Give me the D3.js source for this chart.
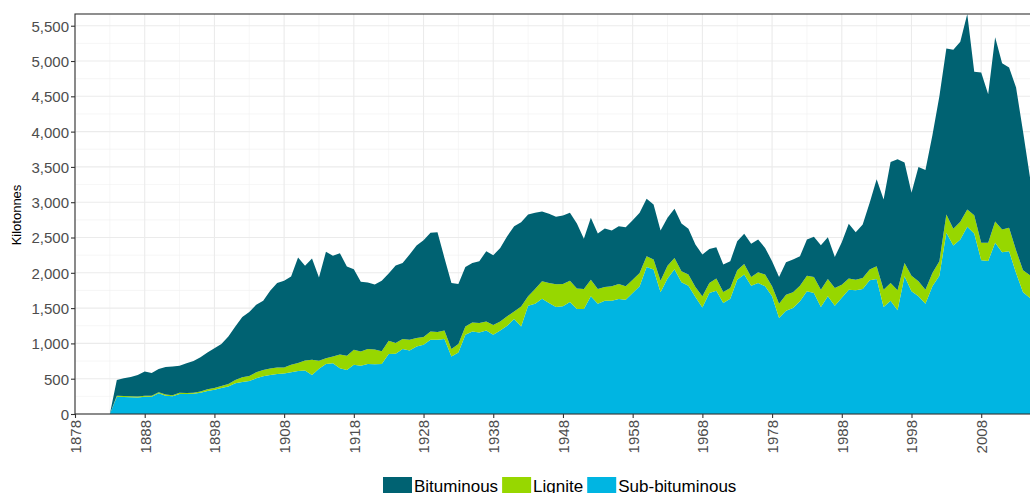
<!DOCTYPE html>
<html><head><meta charset="utf-8">
<script src="https://cdn.jsdelivr.net/npm/d3@7"></script>
<style>
html,body{margin:0;padding:0;overflow:hidden;background:#fff;}
svg{display:block;font-family:Arial,"Liberation Sans",sans-serif;}
</style></head><body>
<svg id="chart" width="1030" height="493"></svg>
<script>
const firstYear = 1878;
const lastYear = 2015;
const seriesNames = ["Bituminous", "Lignite", "Sub-bituminous"];
const seriesColors = ["#006272", "#97D700", "#00B5E2"];
const yTickValues = [0, 500, 1000, 1500, 2000, 2500, 3000, 3500, 4000, 4500, 5000, 5500];
const xTickYears = [1878, 1888, 1898, 1908, 1918, 1928, 1938, 1948, 1958, 1968, 1978, 1988, 1998, 2008];
const yAxisTitle = "Kilotonnes";

// Kilotonnes per year, 1878..2015
const bituminous = [0,0,0,0,0,0,
223,251,272,306,343,324,331,392,407,382,
421,450,488,521,564,592,672,757,852,904,
957,981,1099,1194,1227,1250,1495,1340,1434,1179,
1506,1427,1435,1266,1143,988,944,921,997,953,
1098,1079,1207,1311,1373,1396,1416,1027,937,852,
842,843,876,994,989,1041,1136,1208,1193,1159,
1080,989,980,957,970,961,923,710,876,786,
829,791,819,838,843,852,814,781,711,679,
696,677,648,601,591,483,445,388,379,412,
426,469,464,378,355,378,460,464,417,512,
569,630,592,440,602,776,673,758,946,1231,
1279,1714,1856,1421,1175,1619,1696,1952,2336,2352,
2536,2550,2768,2030,2414,2106,2608,2356,2272,2305,
1964,1385];
const lignite = [0,0,0,0,0,0,
14,14,14,14,14,15,15,15,15,15,
15,15,15,23,24,29,38,48,67,71,
85,90,94,94,85,108,112,144,217,115,
81,94,194,199,213,203,209,209,180,187,
152,142,151,119,109,119,109,123,105,119,
119,127,133,128,138,128,133,108,283,133,
208,246,284,322,317,303,289,284,236,208,
194,204,213,190,189,189,152,142,165,180,
161,156,157,142,157,142,171,156,151,133,
151,123,152,166,142,204,227,223,222,222,
227,246,246,251,184,157,151,156,152,180,
246,251,284,189,222,213,198,189,204,261,
237,251,246,260,246,255,303,322,331,322,
312,322];
const subBituminous = [0,0,0,0,0,0,
246,242,239,234,244,243,293,260,250,285,
283,287,302,327,345,369,388,435,454,469,
505,533,552,566,575,590,610,615,552,640,
710,720,649,625,696,682,710,705,710,850,
852,919,900,956,980,1051,1051,1061,814,871,
1122,1170,1155,1184,1122,1184,1250,1345,1241,1534,
1563,1634,1572,1515,1525,1586,1487,1487,1667,1563,
1605,1605,1629,1619,1714,1809,2083,2046,1724,1920,
2050,1866,1818,1657,1510,1714,1747,1572,1634,1903,
1975,1818,1856,1809,1667,1359,1463,1501,1596,1738,
1714,1515,1667,1534,1648,1761,1752,1771,1894,1913,
1515,1605,1468,1951,1738,1667,1563,1809,1960,2566,
2386,2472,2652,2557,2178,2169,2424,2292,2306,1998,
1724,1643];

(function () {
const years = d3.range(firstYear, lastYear + 1);
const table = years.map((yr, i) => ({
  year: yr,
  "Bituminous": bituminous[i],
  "Lignite": lignite[i],
  "Sub-bituminous": subBituminous[i]
}));

const svg = d3.select("#chart");
const pLeft = 75, pRight = 1030, pTop = 14, pBottom = 414;

const x = d3.scaleLinear().domain([firstYear, lastYear]).range([pLeft, pRight]);
const yMax = d3.max(table, d => d["Bituminous"] + d["Lignite"] + d["Sub-bituminous"]);
const y = d3.scaleLinear().domain([0, yMax]).range([pBottom, pTop]);

// grid
const grid = svg.append("g");
const minorY = yTickValues.map(v => v + 250).filter(v => v < yMax);
const minorX = xTickYears.map(v => v + 5).filter(v => v <= lastYear);
grid.selectAll(".my").data(minorY).join("line")
  .attr("x1", pLeft).attr("x2", pRight + 5).attr("y1", d => y(d)).attr("y2", d => y(d))
  .attr("stroke", "#f0f0f0").attr("stroke-width", 0.6);
grid.selectAll(".mx").data(minorX).join("line")
  .attr("x1", d => x(d)).attr("x2", d => x(d)).attr("y1", pTop).attr("y2", pBottom)
  .attr("stroke", "#f0f0f0").attr("stroke-width", 0.6);
grid.selectAll(".gy").data(yTickValues).join("line")
  .attr("x1", pLeft).attr("x2", pRight + 5).attr("y1", d => y(d)).attr("y2", d => y(d))
  .attr("stroke", "#ebebeb").attr("stroke-width", 1.1);
grid.selectAll(".gx").data(xTickYears).join("line")
  .attr("x1", d => x(d)).attr("x2", d => x(d)).attr("y1", pTop).attr("y2", pBottom)
  .attr("stroke", "#ebebeb").attr("stroke-width", 1.1);

// stacked areas
const stackOrder = ["Sub-bituminous", "Lignite", "Bituminous"];
const stacked = d3.stack().keys(stackOrder)(table);
const colorOf = d3.scaleOrdinal().domain(seriesNames).range(seriesColors);
const area = d3.area()
  .x(d => x(d.data.year))
  .y0(d => y(d[0]))
  .y1(d => y(d[1]));
svg.append("g").selectAll("path").data(stacked).join("path")
  .attr("d", area)
  .attr("fill", d => colorOf(d.key));

// panel border
svg.append("rect")
  .attr("x", pLeft).attr("y", pTop).attr("width", pRight + 10 - pLeft).attr("height", pBottom - pTop)
  .attr("fill", "none").attr("stroke", "#333333").attr("stroke-width", 1.1);

// axes
const yAxis = d3.axisLeft(y).tickValues(yTickValues).tickFormat(d3.format(",")).tickSize(4).tickPadding(2);
const gy = svg.append("g").attr("transform", `translate(${pLeft},0)`).call(yAxis);
gy.select(".domain").remove();
gy.selectAll(".tick line").attr("stroke", "#333333").attr("stroke-width", 1.1);
gy.selectAll(".tick text").attr("fill", "#4d4d4d").style("font-size", "15px").attr("dy", "0.36em");

const xAxis = d3.axisBottom(x).tickValues(xTickYears).tickFormat(d3.format("d")).tickSize(4);
const gx = svg.append("g").attr("transform", `translate(0,${pBottom})`).call(xAxis);
gx.select(".domain").remove();
gx.selectAll(".tick line").attr("stroke", "#333333").attr("stroke-width", 1.1);
gx.selectAll(".tick text")
  .attr("fill", "#4d4d4d").style("font-size", "15px")
  .attr("transform", "rotate(-90)")
  .attr("x", -6).attr("y", 0).attr("dy", "0.36em")
  .style("text-anchor", "end");

// y title
svg.append("text")
  .attr("transform", "translate(21,215) rotate(-90)")
  .attr("text-anchor", "middle")
  .style("font-size", "13px").attr("fill", "#000")
  .text(yAxisTitle);

// legend
const legend = svg.append("g");
let lx = 383;
seriesNames.forEach((name, i) => {
  legend.append("rect").attr("x", lx).attr("y", 477).attr("width", 29).attr("height", 29)
    .attr("fill", seriesColors[i]);
  const t = legend.append("text").attr("x", lx + 31).attr("y", 492)
    .style("font-size", "17px").attr("fill", "#000").text(name);
  lx += 31 + t.node().getComputedTextLength() + 4;
});
})();
</script>
</body></html>
